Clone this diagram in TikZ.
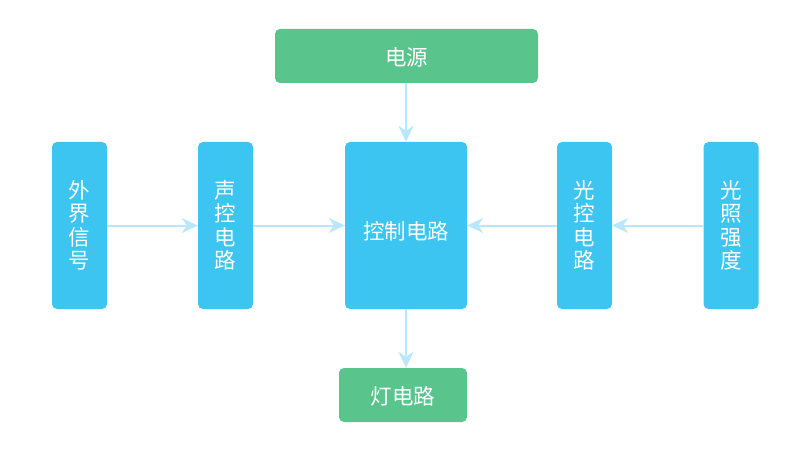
\documentclass[tikz,border=0pt]{standalone}
\usepackage{fontspec}
\newfontfamily\cjk{Noto Sans CJK SC}
\usetikzlibrary{arrows.meta}
\definecolor{boxgreen}{HTML}{59C58D}
\definecolor{boxblue}{HTML}{3BC5F0}
\definecolor{linkblue}{HTML}{B9E7FB}
\newcommand{\lowered}[2]{\raisebox{-#1}[\height][\depth]{#2}}
\tikzset{
	block/.style={rounded corners=5pt, inner sep=0pt, text=white,
		font=\cjk\fontsize{21.5}{23.5}\selectfont, align=center},
	greenblock/.style={block, fill=boxgreen},
	blueblock/.style={block, fill=boxblue},
	link/.style={linkblue, line width=2pt,
		-{Stealth[length=16pt, width=15pt, inset=5pt]}}
}
\begin{document}
\begin{tikzpicture}[x=1pt, y=-1pt]
	\useasboundingbox (0,0) rectangle (800,449);
	
	%nodes
	\node[greenblock, minimum width=263pt, minimum height=54pt] (power) at (406.5,56) {\lowered{1.5pt}{电源}};
	\node[blueblock, minimum width=122pt, minimum height=167pt] (ctrl) at (406,225.5) {\lowered{6pt}{控制电路}};
	\node[greenblock, minimum width=128pt, minimum height=54pt] (lamp) at (403,395) {\lowered{1.5pt}{灯电路}};
	\node[blueblock, minimum width=55pt, minimum height=167pt] (signal) at (79.5,225.5) {外\\界\\信\\号};
	\node[blueblock, minimum width=55pt, minimum height=167pt] (sound) at (225.5,225.5) {声\\控\\电\\路};
	\node[blueblock, minimum width=55pt, minimum height=167pt] (light) at (584.5,225.5) {光\\控\\电\\路};
	\node[blueblock, minimum width=55pt, minimum height=167pt] (lux) at (731,225.5) {光\\照\\强\\度};
	
	%lines
	\draw[link] (power.south -| ctrl.north) -- (ctrl.north);	%power--ctrl
	\draw[link] (ctrl.south) -- (ctrl.south |- lamp.north);		%ctrl--lamp
	\draw[link] (signal) -- (sound);						%signal--sound
	\draw[link] (sound) -- (ctrl);							%sound--ctrl
	\draw[link] (lux) -- (light);							%lux--light
	\draw[link] (light) -- (ctrl);							%light--ctrl
	
\end{tikzpicture}
\end{document}
